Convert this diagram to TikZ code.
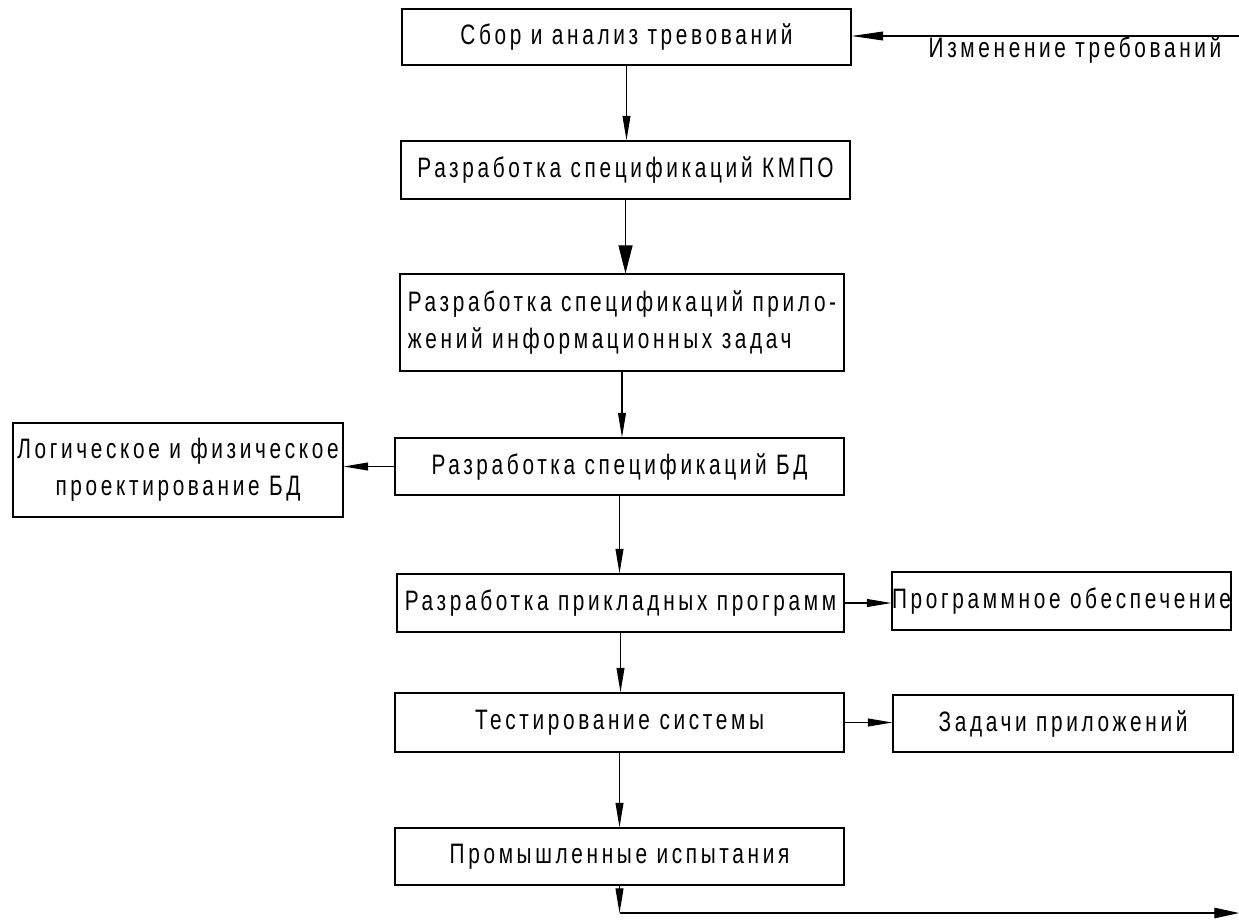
\documentclass[tikz,border=0pt]{standalone}
\usepackage{fontspec}
\setmainfont{Liberation Sans}[FakeStretch=0.74,LetterSpace=13]
\usetikzlibrary{arrows.meta}
\tikzset{
  blk/.style={draw, line width=0.7pt, inner sep=0pt, font=\fontsize{16}{21}\selectfont},
  flow/.style={line width=0.6pt, -{Triangle[length=14pt,width=4.5pt]}},
}
\begin{document}
\begin{tikzpicture}[x=0.02cm, y=-0.02cm]
    \useasboundingbox (0,0) rectangle (1239,920);
    \node[blk, minimum width=8.98cm, minimum height=1.12cm] (b1) at (626.5,37) {Сбор и анализ тревований};
    \node[blk, minimum width=8.98cm, minimum height=1.16cm] (b2) at (625.5,170) {Разработка спецификаций КМПО};
    \node[blk, minimum width=8.88cm, minimum height=1.94cm, align=left] (b3) at (622,322.5) {Разработка спецификаций прило-\\ жений информационных задач};
    \node[blk, minimum width=8.98cm, minimum height=1.14cm] (b4) at (619.5,466.5) {Разработка спецификаций БД};
    \node[blk, minimum width=8.94cm, minimum height=1.16cm] (b5) at (620.5,603) {Разработка прикладных программ};
    \node[blk, minimum width=8.98cm, minimum height=1.18cm] (b6) at (619.5,722.5) {Тестирование системы};
    \node[blk, minimum width=8.98cm, minimum height=1.14cm] (b7) at (619.5,856.5) {Промышленные испытания};
    \node[blk, minimum width=6.6cm, minimum height=1.88cm, align=center] (ldb) at (178,470) {Логическое и физическое\\проектирование БД};
    \node[blk, minimum width=6.7cm, minimum height=1.16cm] (soft) at (1061.5,601) {Программное обеспечение};
    \node[blk, minimum width=6.8cm, minimum height=1.14cm] (tasks) at (1063,723.5) {Задачи приложений};
    \node[font=\fontsize{16}{21}\selectfont] (chg) at (1075,50) {Изменение требований};
    \coordinate (in) at (1239,36);
    \coordinate (turn) at (b7.south |- 0,913);
    \coordinate (out) at (1239,913);
    \foreach \a/\b in {b1/b2, b3/b4, b4/b5, b5/b6, b6/b7}
      \draw[flow] (\a.south) -- (\a.south |- \b.north);
    \draw[line width=0.6pt, -{Triangle[length=16pt,width=8pt]}] (b2.south) -- (b2.south |- b3.north);
    \draw[line width=0.6pt, -{Triangle[length=18pt,width=5pt]}] (in) -- (in -| b1.east);
    \draw[flow] (b4.west) -- (ldb.east |- b4.west);
    \draw[flow] (b5.east) -- (soft.west |- b5.east);
    \draw[flow] (b6.east) -- (tasks.west |- b6.east);
    \draw[flow] (b7.south) -- (turn);
    \draw[line width=0.6pt, -{Triangle[length=14pt,width=6pt]}] (turn) -- (out);
\end{tikzpicture}
\end{document}
